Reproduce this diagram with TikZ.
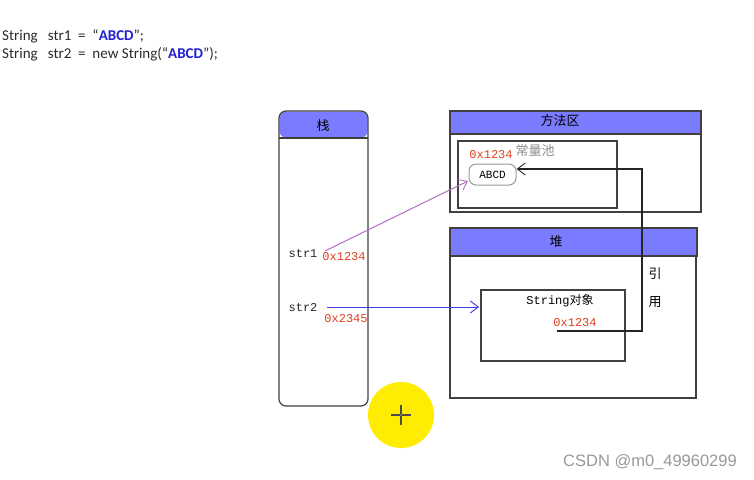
\documentclass[tikz,border=0pt]{standalone}
\usepackage{fontspec}
\setmainfont{Carlito}
\newfontfamily\cjk{Noto Sans CJK SC}
\newfontfamily\mono{Liberation Mono}
\newfontfamily\wm{Liberation Sans}
\usetikzlibrary{arrows.meta}
\definecolor{hdr}{HTML}{7B7BFF}
\definecolor{addr}{HTML}{E04020}
\definecolor{codec}{HTML}{2A2A2A}
\definecolor{abcdblue}{HTML}{2020D0}
\definecolor{purp}{HTML}{B070C0}
\definecolor{arrblue}{HTML}{3A3AF0}
\tikzset{
  area/.style={draw=black!75, line width=1.2pt},
  header/.style={draw=black!75, line width=1.2pt, fill=hdr},
  inner/.style={draw=black!75, line width=1.1pt},
  addrtxt/.style={text=addr, font=\mono\fontsize{12}{13}\selectfont, inner sep=0pt},
  monotxt/.style={text=black!85, font=\mono\fontsize{12}{13}\selectfont, inner sep=0pt},
  cjktxt/.style={font=\cjk\fontsize{13}{14}\selectfont, inner sep=0pt},
  codetxt/.style={text=codec, font=\fontsize{15}{17}\selectfont, inner sep=0pt, anchor=west},
  openarrow/.style={-{Straight Barb[length=8pt,width=12pt,line width=0.9pt]}},
}
\begin{document}
\begin{tikzpicture}[x=1pt,y=-1pt]
\useasboundingbox (0,0) rectangle (754,479);
\fill[white] (0,0) rectangle (754,479);
% code
\node[codetxt] (c1) at (2,36) {String\ \ \ str1\ \ =\ \ “\textcolor{abcdblue}{\textbf{ABCD}}”;};
\node[codetxt] (c2) at (2,54) {String\ \ \ str2\ \ =\ \ new String(“\textcolor{abcdblue}{\textbf{ABCD}}”);};
% stack
\fill[hdr, rounded corners=7pt] (279.5,111.5) -- (367.5,111.5) -- (367.5,138) -- (279.5,138) -- cycle;
\draw[area, rounded corners=7pt] (279,111) rectangle (368,406);
\draw[area] (279,138) -- (368,138);
\node[cjktxt] (stk) at (323,126) {栈};
\node[monotxt] (s1) at (303,254) {str1};
\node[addrtxt] (a1) at (344,257) {0x1234};
\node[monotxt] (s2) at (303,308) {str2};
\node[addrtxt] (a2) at (346,319) {0x2345};
% method area
\draw[area] (450,111) rectangle (701,212);
\draw[header] (450,111) rectangle (701,134);
\node[cjktxt] (ma) at (560,121) {方法区};
\draw[inner] (458,141) rectangle (617,208);
\node[cjktxt, text=black!45] (pool) at (535,151) {常量池};
\node[addrtxt] (a3) at (491,155) {0x1234};
\node[draw=black!40, line width=1pt, rounded corners=7pt, minimum width=47pt, minimum height=21pt, inner sep=0pt, font=\mono\fontsize{11}{12}\selectfont] (abcd) at (492.5,174.5) {ABCD};
% heap
\draw[area] (450,228) rectangle (696,398);
\draw[header] (450,228) rectangle (697,256);
\node[cjktxt] (heap) at (556,242) {堆};
\draw[inner] (481,290) rectangle (625,361);
\node[font=\mono\fontsize{12}{13}\selectfont, inner sep=0pt] (so) at (560,301) {String\cjk 对象};
\node[addrtxt] (a4) at (575,323) {0x1234};
\node[cjktxt] (yin) at (655,274) {引};
\node[cjktxt] (yong) at (655,302) {用};
% connectors
\coordinate (r0) at (557,331);
\coordinate (r1) at (642,331);
\coordinate (r2) at (642,169);
\coordinate (p0) at (325,251);
\coordinate (p1) at (468,181);
\coordinate (b0) at (327,307);
\coordinate (b1) at (479,307);
\draw[black!85, line width=1.1pt, openarrow] (r0) -- (r1) -- (r2) -- (abcd.east |- r2);
\draw[purp, line width=1pt, openarrow] (p0) -- (p1);
\draw[arrblue, line width=1pt, openarrow] (b0) -- (b1);
% cursor highlight
\fill[yellow!95!orange] (401,415) circle (33);
\draw[black!70, line width=1.2pt] (391,415) -- (411,415) (401,405) -- (401,425);
\draw[black!70, fill=yellow!60!black, line width=0.6pt] (401,415) circle (1.6);
% watermark
\node[text=black!40, font=\wm\fontsize{16.5}{18}\selectfont, inner sep=0pt] (wmk) at (650,462) {CSDN @m0\_49960299};
\end{tikzpicture}
\end{document}
